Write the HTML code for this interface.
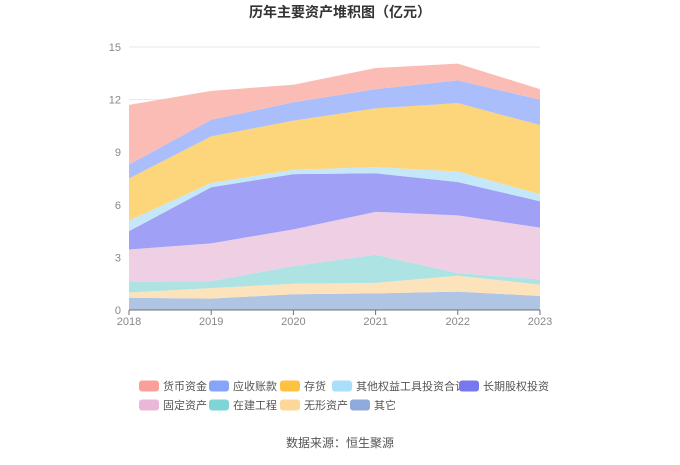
<!DOCTYPE html>
<html><head><meta charset="utf-8"><style>
body{margin:0;background:#fff;font-family:"Liberation Sans","Noto Sans CJK SC",sans-serif;}
svg text{font-family:"Liberation Sans","Noto Sans CJK SC",sans-serif;}
</style></head><body>
<svg id="chart" width="680" height="460" xmlns="http://www.w3.org/2000/svg">
<text x="340" y="17" text-anchor="middle" font-size="14" font-weight="bold" fill="#333">历年主要资产堆积图（亿元）</text>
<g id="grid"></g><g id="areas"></g><g id="axes"></g><g id="legend"></g>
<text x="340" y="447" text-anchor="middle" font-size="12" fill="#555">数据来源：恒生聚源</text>
</svg>
<script>
const years=["2018","2019","2020","2021","2022","2023"];
const yTicks=[0,3,6,9,12,15];
const names=["其它","无形资产","在建工程","固定资产","长期股权投资","其他权益工具投资合计","存货","应收账款","货币资金"];
const other=[0.7,0.65,0.9,0.95,1.05,0.8];
const intangible=[0.3,0.6,0.6,0.6,0.9,0.65];
const construction=[0.6,0.4,1.0,1.6,0.15,0.3];
const fixed=[1.85,2.15,2.1,2.45,3.3,2.95];
const ltEquity=[1.05,3.2,3.15,2.2,1.9,1.5];
const otherEquity=[0.6,0.25,0.25,0.35,0.6,0.4];
const inventory=[2.4,2.65,2.8,3.35,3.9,3.95];
const receivables=[0.8,0.95,1.05,1.1,1.3,1.45];
const cash=[3.4,1.65,1.0,1.2,0.95,0.6];
const series=[other,intangible,construction,fixed,ltEquity,otherEquity,inventory,receivables,cash];
const fills=["#b0c4e4","#fce3bb","#ade3e3","#eecfe4","#a0a1f6","#c4e8fa","#fdd57a","#aabefc","#fbbcb6"];
const legendColors=["#8eabdb","#fdd69a","#7fd5d5","#e9b8d9","#7777ee","#aadffa","#ffc23e","#85a4fa","#f9a09a"];
const slugs=["other","intangible-assets","construction","fixed-assets","lt-equity","other-equity","inventory","receivables","cash"];
const NS="http://www.w3.org/2000/svg";
const x0=129,x1=540,y0=310,yTop=47,yMax=15;
const xs=i=>x0+(x1-x0)*i/(years.length-1);
const ys=v=>y0-(y0-yTop)*v/yMax;
function mk(tag,attrs,parent){const e=document.createElementNS(NS,tag);for(const k in attrs)e.setAttribute(k,attrs[k]);parent.appendChild(e);return e;}
const grid=document.getElementById('grid'),areas=document.getElementById('areas'),axes=document.getElementById('axes'),legend=document.getElementById('legend');
yTicks.forEach(t=>{
 if(t>0){const l=mk('line',{x1:x0,x2:x1,y1:ys(t),y2:ys(t),stroke:'#e6e6f0','stroke-width':1},grid);
 
 }
 const tx=mk('text',{x:x0-8,y:ys(t)+4,'text-anchor':'end','font-size':11,fill:'#888'},axes);tx.textContent=t;
 
 
});
let base=years.map(()=>0);
series.forEach((s,k)=>{
 const top=base.map((b,i)=>b+s[i]);
 let d='M'+top.map((v,i)=>xs(i)+','+ys(v)).join('L');
 for(let i=years.length-1;i>=0;i--)d+='L'+xs(i)+','+ys(base[i]);
 const p=mk('path',{d:d+'Z',fill:fills[k]},areas);
 
 
 base=top;
});
const ax=mk('line',{x1:x0,x2:x1,y1:y0,y2:y0,stroke:'#6e7079','stroke-width':1},axes);


years.forEach((y,i)=>{
 const tk=mk('line',{x1:xs(i),x2:xs(i),y1:y0,y2:y0+5,stroke:'#6e7079'},axes);
 
 
 const t=mk('text',{x:xs(i),y:y0+15,'text-anchor':'middle','font-size':11,fill:'#888'},axes);t.textContent=y;
 
 
});
const order=[8,7,6,5,4,3,2,1,0];
const lx=[139,209,280,332,459,139,209,280,350];
const ly=[386,386,386,386,386,405,405,405,405];
order.forEach((k,j)=>{
 const g=mk('g',{},legend);
 
 
 mk('rect',{x:lx[j],y:ly[j]-5.5,width:20,height:11,rx:3,fill:legendColors[k]},g);
 const t=mk('text',{x:lx[j]+24,y:ly[j]+4,'font-size':11,fill:'#555'},g);t.textContent=names[k];
});
</script>
</body></html>
